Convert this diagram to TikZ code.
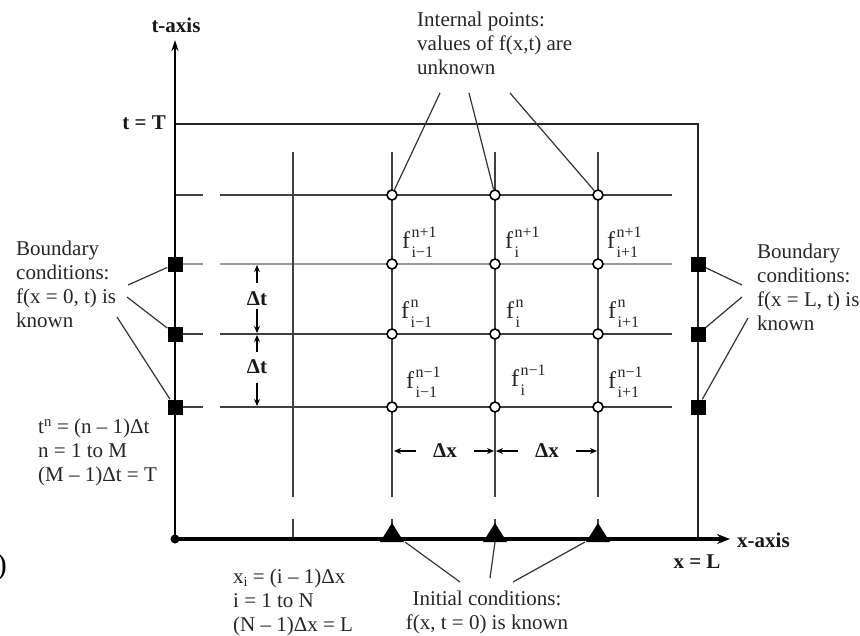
\documentclass[tikz,border=0pt]{standalone}
\usepackage{fontspec}
\setmainfont{Liberation Serif}
\usetikzlibrary{arrows.meta}
\newcommand{\fsym}[2]{f\hspace{1.5pt}\rlap{\raisebox{11pt}{\fontsize{16}{16}\selectfont #1}}\raisebox{-9pt}{\fontsize{16}{16}\selectfont #2}}
\begin{document}
\begin{tikzpicture}[x=1pt,y=-1pt,
  lbl/.style={font=\fontsize{21}{24}\selectfont, inner sep=0pt, align=left, text=black!85},
  bold/.style={font=\fontsize{21}{22}\selectfont\bfseries, inner sep=0pt, text=black!90},
  fl/.style={font=\fontsize{24}{24}\selectfont, inner sep=0pt, anchor=base west, text=black!85},
  grid/.style={line width=1.4pt, draw=black!75},
  bsq/.style={fill=black, minimum size=15pt, inner sep=0pt, rectangle},
  ocirc/.style={circle, draw=black, line width=1.6pt, fill=white, minimum size=10pt, inner sep=0pt},
  leader/.style={line width=1.2pt, draw=black!80},
  dim/.style={line width=1.1pt, -{Stealth[length=7pt,width=6pt]}},
  ]
\useasboundingbox (0,0) rectangle (860,635);

% axes
\coordinate (O) at (175,539);
\coordinate (ttop) at (175,40);
\coordinate (xend) at (730,539);
\draw[line width=2.2pt, -{Stealth[length=11pt,width=7pt]}] (O) -- (ttop);
\node[bold] (taxis) at (176,25) {t-axis};
\node[bold, anchor=east] (tT) at (166,123) {t = T};
\node[bold, anchor=west] (xaxis) at (737,540) {x-axis};
\node[bold] (xL) at (697,562) {x = L};

% upper / right border
\coordinate (TL) at (176,124);
\coordinate (TR) at (698,124);
\coordinate (BR) at (698,539);
\draw[line width=1.8pt, draw=black!85] (TL) -- (TR) -- (BR);

% horizontal grid lines
\foreach \y/\c in {195/black!75, 264/black!40, 334/black!75, 407/black!75}{
  \draw[grid, draw=\c] (176,\y) -- (203,\y);
  \draw[grid, draw=\c] (220,\y) -- (672,\y);
}
% vertical grid lines
\foreach \x in {293,392,495,598}{
  \draw[grid] (\x,152) -- (\x,497);
  \draw[grid] (\x,519) -- (\x,539);
}

% x-axis (drawn over)
\draw[line width=3.6pt, -{Stealth[length=13pt,width=10pt]}] (O) -- (xend);
\fill (O) circle (4.5);

% triangles (initial conditions)
\foreach \x/\n in {392/a,495/b,598/c}{
  \fill (\x-12,542) -- (\x,523) -- (\x+12,542) -- cycle;
  \coordinate (tri\n) at (\x,542);
}

% boundary squares
\node[bsq] (bl1) at (175,264) {};
\node[bsq] (bl2) at (175,334) {};
\node[bsq] (bl3) at (175,407) {};
\node[bsq] (br1) at (698,264) {};
\node[bsq] (br2) at (698,334) {};
\node[bsq] (br3) at (698,407) {};

% internal points
\foreach \x/\i in {392/1,495/2,598/3}{
  \foreach \y/\j in {195/1,264/2,334/3,407/4}{
    \node[ocirc] (p\i\j) at (\x,\y) {};
  }
}

% f labels
\node[fl] (f11) at (402,248) {\fsym{n+1}{i−1}};
\node[fl] (f21) at (505,248) {\fsym{n+1}{i}};
\node[fl] (f31) at (607,248) {\fsym{n+1}{i+1}};
\node[fl] (f12) at (401,318) {\fsym{n}{i−1}};
\node[fl] (f22) at (506,318) {\fsym{n}{i}};
\node[fl] (f32) at (608,318) {\fsym{n}{i+1}};
\node[fl] (f13) at (406,388) {\fsym{n−1}{i−1}};
\node[fl] (f23) at (511,386) {\fsym{n−1}{i}};
\node[fl] (f33) at (608,388) {\fsym{n−1}{i+1}};

% delta t dimensions
\node[bold] (dt1) at (257,299) {Δt};
\node[bold] (dt2) at (257,367) {Δt};
\coordinate (dt1u) at (257,283);
\coordinate (dt1d) at (257,309);
\coordinate (dt2u) at (257,352);
\coordinate (dt2d) at (257,383);
\coordinate (dt1a) at (257,265);
\coordinate (dt1b) at (257,333);
\coordinate (dt2a) at (257,335);
\coordinate (dt2b) at (257,406);
\draw[dim] (dt1u) -- (dt1a);
\draw[dim] (dt1d) -- (dt1b);
\draw[dim] (dt2u) -- (dt2a);
\draw[dim] (dt2d) -- (dt2b);

% delta x dimensions
\node[bold, inner xsep=17pt] (dx1) at (445,451) {Δx};
\node[bold, inner xsep=17pt] (dx2) at (547,451) {Δx};
\coordinate (dx1a) at (394,451);
\coordinate (dx1b) at (494,451);
\coordinate (dx2a) at (496,451);
\coordinate (dx2b) at (597,451);
\draw[dim] (dx1.west) -- (dx1a);
\draw[dim] (dx1.east) -- (dx1b);
\draw[dim] (dx2.west) -- (dx2a);
\draw[dim] (dx2.east) -- (dx2b);

% internal points label
\node[lbl, anchor=north west] (intl) at (417,12) {Internal points:\\values of f(x,t) are\\unknown};
\coordinate (il1) at (440,93);
\coordinate (il2) at (469,93);
\coordinate (il3) at (510,93);
\draw[leader] (il1) -- (p11);
\draw[leader] (il2) -- (p21);
\draw[leader] (il3) -- (p31);

% left boundary label
\node[lbl, anchor=north west] (bdl) at (16,241) {Boundary\\conditions:\\f(x = 0, t) is\\known};
\coordinate (bl1s) at (128,285);
\coordinate (bl2s) at (127,297);
\coordinate (bl3s) at (117,317);
\draw[leader] (bl1s) -- (bl1);
\draw[leader] (bl2s) -- (bl2);
\draw[leader] (bl3s) -- (bl3);

% right boundary label
\node[lbl, anchor=north west] (bdr) at (757,244) {Boundary\\conditions:\\f(x = L, t) is\\known};
\coordinate (br1s) at (742,285);
\coordinate (br2s) at (742,297);
\coordinate (br3s) at (748,318);
\draw[leader] (br1s) -- (br1);
\draw[leader] (br2s) -- (br2);
\draw[leader] (br3s) -- (br3);

% t^n label
\node[lbl, anchor=north west] (tn) at (38,419) {t\textsuperscript{n} = (n – 1)Δt\\n = 1 to M\\(M – 1)Δt = T};

% x_i label
\node[lbl, anchor=north west] (xi) at (233,569) {x\raisebox{-3pt}{\fontsize{14}{14}\selectfont i} = (i – 1)Δx\\i = 1 to N\\(N – 1)Δx = L};

% initial conditions label
\node[lbl, align=center, anchor=north] (ic) at (487,591) {Initial conditions:\\f(x, t = 0) is known};
\coordinate (ic1) at (460,582);
\coordinate (ic2) at (490,578);
\coordinate (ic3) at (513,582);
\draw[leader] (ic1) -- (405,542);
\draw[leader] (ic2) -- (trib);
\draw[leader] (ic3) -- (585,542);

% stray glyph at left edge
\node[font=\fontsize{30}{30}\selectfont, inner sep=0pt, anchor=east] (paren) at (7,567) {)};
\end{tikzpicture}
\end{document}
